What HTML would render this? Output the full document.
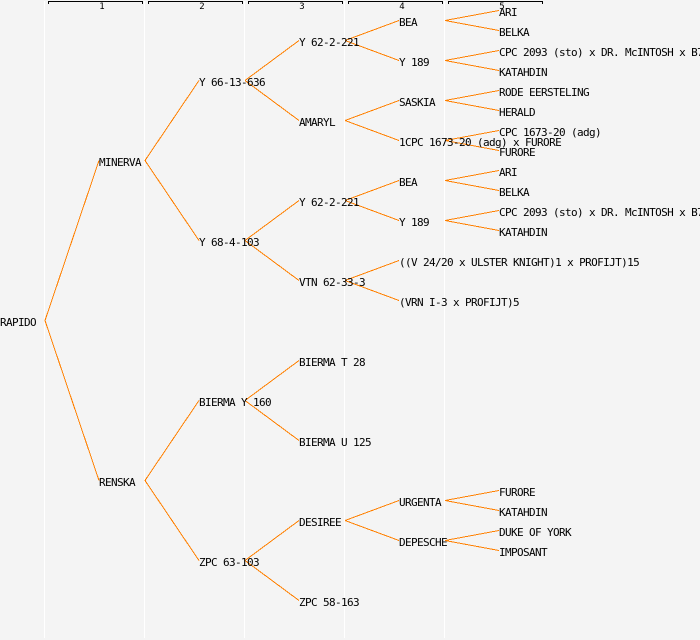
<!DOCTYPE html>
<html><head><meta charset="utf-8"><style>
html,body{margin:0;padding:0;background:#f4f4f4}
svg{display:block}
text{font-family:"DejaVu Sans Mono","Liberation Mono",monospace;font-size:11px;letter-spacing:-0.62px;fill:#000;white-space:pre}
.h{font-size:9px;letter-spacing:0;text-anchor:middle}
.v{stroke:#fff;stroke-width:1;fill:none}
.b{stroke:#000;stroke-width:1;fill:none}
.e{stroke:#ff8000;stroke-width:1;fill:none}
</style></head><body>
<svg width="700" height="640" viewBox="0 0 700 640" xmlns="http://www.w3.org/2000/svg" shape-rendering="crispEdges">
<rect width="700" height="640" fill="#f4f4f4"/>
<path class="v" d="M44.5 1V638M144.5 1V638M244.5 1V638M344.5 1V638M444.5 1V638"/>
<path class="b" d="M48.5 4V1.5H142.5V4M148.5 4V1.5H242.5V4M248.5 4V1.5H342.5V4M348.5 4V1.5H442.5V4M448.5 4V1.5H542.5V4"/>
<path class="e" d="M45 320.5L99 160.5M45 320.5L99 480.5
M145 160.5L199 80.5M145 160.5L199 240.5M145 480.5L199 400.5M145 480.5L199 560.5
M245 80.5L299 40.5M245 80.5L299 120.5M245 240.5L299 200.5M245 240.5L299 280.5M245 400.5L299 360.5M245 400.5L299 440.5M245 560.5L299 520.5M245 560.5L299 600.5
M345 40.5L399 20.5M345 40.5L399 60.5M345 120.5L399 100.5M345 120.5L399 140.5M345 200.5L399 180.5M345 200.5L399 220.5M345 280.5L399 260.5M345 280.5L399 300.5M345 520.5L399 500.5M345 520.5L399 540.5
M445 20.5L499 10.5M445 20.5L499 30.5M445 60.5L499 50.5M445 60.5L499 70.5M445 100.5L499 90.5M445 100.5L499 110.5M445 140.5L499 130.5M445 140.5L499 150.5M445 180.5L499 170.5M445 180.5L499 190.5M445 220.5L499 210.5M445 220.5L499 230.5M445 500.5L499 490.5M445 500.5L499 510.5M445 540.5L499 530.5M445 540.5L499 550.5"/>
<text class="h" x="102" y="9">1</text>
<text class="h" x="202" y="9">2</text>
<text class="h" x="302" y="9">3</text>
<text class="h" x="402" y="9">4</text>
<text class="h" x="502" y="9">5</text>
<text x="0" y="326">RAPIDO</text>
<text x="99" y="166">MINERVA</text>
<text x="99" y="486">RENSKA</text>
<text x="199" y="86">Y 66-13-636</text>
<text x="199" y="246">Y 68-4-103</text>
<text x="199" y="406">BIERMA Y 160</text>
<text x="199" y="566">ZPC 63-103</text>
<text x="299" y="46">Y 62-2-221</text>
<text x="299" y="126">AMARYL</text>
<text x="299" y="206">Y 62-2-221</text>
<text x="299" y="286">VTN 62-33-3</text>
<text x="299" y="366">BIERMA T 28</text>
<text x="299" y="446">BIERMA U 125</text>
<text x="299" y="526">DESIREE</text>
<text x="299" y="606">ZPC 58-163</text>
<text x="399" y="26">BEA</text>
<text x="399" y="66">Y 189</text>
<text x="399" y="106">SASKIA</text>
<text x="399" y="146">1CPC 1673-20 (adg) x FURORE</text>
<text x="399" y="186">BEA</text>
<text x="399" y="226">Y 189</text>
<text x="399" y="266">((V 24/20 x ULSTER KNIGHT)1 x PROFIJT)15</text>
<text x="399" y="306">(VRN I-3 x PROFIJT)5</text>
<text x="399" y="506">URGENTA</text>
<text x="399" y="546">DEPESCHE</text>
<text x="499" y="16">ARI</text>
<text x="499" y="36">BELKA</text>
<text x="499" y="56">CPC 2093 (sto) x DR. McINTOSH x B7</text>
<text x="499" y="76">KATAHDIN</text>
<text x="499" y="96">RODE EERSTELING</text>
<text x="499" y="116">HERALD</text>
<text x="499" y="136">CPC 1673-20 (adg)</text>
<text x="499" y="156">FURORE</text>
<text x="499" y="176">ARI</text>
<text x="499" y="196">BELKA</text>
<text x="499" y="216">CPC 2093 (sto) x DR. McINTOSH x B7</text>
<text x="499" y="236">KATAHDIN</text>
<text x="499" y="496">FURORE</text>
<text x="499" y="516">KATAHDIN</text>
<text x="499" y="536">DUKE OF YORK</text>
<text x="499" y="556">IMPOSANT</text>
</svg>
</body></html>
